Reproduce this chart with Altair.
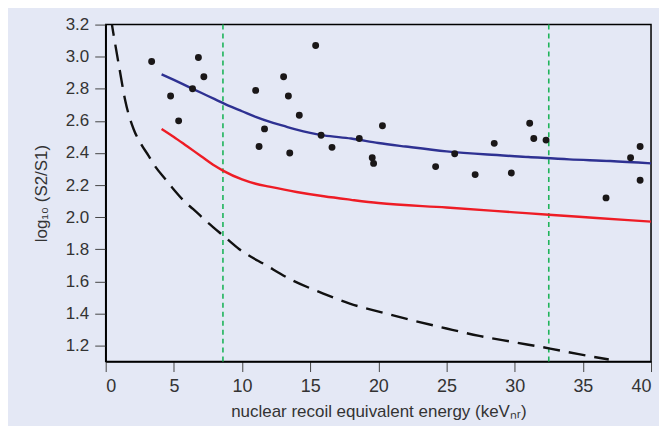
import altair as alt
import pandas as pd

# ---- data ----
pts_x = [3.37, 4.76, 5.35, 6.37, 6.80, 7.20, 11.0, 11.25, 11.65, 13.05, 13.4, 13.5,
         14.2, 15.4, 15.8, 16.6, 18.6, 19.55, 19.65, 20.3, 24.2, 25.6, 27.1, 28.5,
         29.75, 31.1, 31.4, 32.3, 36.7, 38.5, 39.2, 39.2]
pts_y = [2.97, 2.755, 2.60, 2.80, 2.995, 2.875, 2.79, 2.44, 2.55, 2.875, 2.755, 2.40,
         2.635, 3.07, 2.51, 2.435, 2.49, 2.37, 2.335, 2.57, 2.315, 2.395, 2.265, 2.46,
         2.275, 2.585, 2.49, 2.48, 2.12, 2.37, 2.44, 2.23]

blue_x = [4.1, 5, 6, 7, 8, 9, 10, 11, 12, 13, 14, 15, 16, 18, 20, 22, 25, 28, 31, 34, 37, 40]
blue_y = [2.89, 2.855, 2.815, 2.775, 2.735, 2.695, 2.66, 2.625, 2.595, 2.57, 2.545,
          2.525, 2.51, 2.49, 2.462, 2.44, 2.41, 2.39, 2.375, 2.36, 2.35, 2.335]

red_x = [4.1, 5, 6, 7, 8, 8.6, 10, 11, 12, 14, 16, 18, 20, 25, 30, 32.5, 36, 40]
red_y = [2.55, 2.50, 2.44, 2.38, 2.32, 2.29, 2.235, 2.208, 2.19, 2.157, 2.13, 2.108,
         2.088, 2.06, 2.03, 2.015, 1.995, 1.972]

dash_x = [0.40, 0.46, 0.66, 1.0, 1.44, 2.05, 2.6, 3.15, 3.52, 4.37, 4.86, 5.84, 6.4,
          7.47, 8.67, 9.8, 11.77, 13.7, 15.7, 17.9, 20.1, 22.5, 25.0, 27.4, 29.8,
          32.6, 34.7, 36.9]
dash_y = [3.235, 3.2, 3.097, 2.93, 2.724, 2.548, 2.455, 2.382, 2.33, 2.237, 2.186,
          2.093, 2.051, 1.968, 1.881, 1.80, 1.70, 1.606, 1.533, 1.461, 1.41, 1.357,
          1.306, 1.26, 1.223, 1.181, 1.146, 1.113]

cut_x = [8.6, 32.5]

x_ticks = [0, 5, 10, 15, 20, 25, 30, 35, 40]
y_ticks = [1.2, 1.4, 1.6, 1.8, 2.0, 2.2, 2.4, 2.6, 2.8, 3.0, 3.2]

FONT = "Liberation Sans Narrow, Liberation Sans, sans-serif"
BG = "#e4e8f5"

x_scale = alt.Scale(domain=[0, 40], nice=False, zero=False)
y_scale = alt.Scale(domain=[1.1, 3.2], nice=False, zero=False)

x_axis = alt.Axis(values=x_ticks, title="nuclear recoil equivalent energy (keVₙᵣ)",
                  grid=False, format="d", tickSize=10, tickColor="#444444",
                  domainColor="#000000", domainWidth=1.5, labelPadding=6,
                  labelFontSize=18, titlePadding=8)
y_axis = alt.Axis(values=y_ticks, title="log₁₀ (S2/S1)", grid=False, format=".1f",
                  tickSize=11, tickColor="#444444", domainColor="#000000",
                  domainWidth=1.5, labelPadding=6, labelFontSize=17, titlePadding=15)

def X(field):
    return alt.X(field, type="quantitative", scale=x_scale, axis=x_axis)

def Y(field):
    return alt.Y(field, type="quantitative", scale=y_scale, axis=y_axis)

pts_df = pd.DataFrame({"x": pts_x, "y": pts_y})
blue_df = pd.DataFrame({"x": blue_x, "y": blue_y})
red_df = pd.DataFrame({"x": red_x, "y": red_y})
dash_df = pd.DataFrame({"x": dash_x, "y": dash_y})
cut_df = pd.DataFrame({"x": cut_x})

cuts = alt.Chart(cut_df).mark_rule(color="#1fb45a", strokeWidth=1.6,
                                   strokeDash=[5, 4]).encode(x=X("x"))

dashed = alt.Chart(dash_df).mark_line(color="#111111", strokeWidth=2.4,
                                      strokeDash=[17, 9], clip=True,
                                      interpolate="monotone").encode(
    x=X("x"), y=Y("y"))

red = alt.Chart(red_df).mark_line(color="#ee1c25", strokeWidth=2.4,
                                  interpolate="monotone").encode(x=X("x"), y=Y("y"))

blue = alt.Chart(blue_df).mark_line(color="#2e3192", strokeWidth=2.4,
                                    interpolate="monotone").encode(x=X("x"), y=Y("y"))

points = alt.Chart(pts_df).mark_circle(color="#1a1718", opacity=1, size=48).encode(
    x=X("x"), y=Y("y"))

chart = alt.layer(cuts, dashed, red, blue, points).properties(
    width=547, height=338,
    background=BG,
    autosize=alt.AutoSizeParams(type="none"),
    padding={"left": 98, "top": 16, "right": 8, "bottom": 64},
).configure_view(
    stroke="#000000", strokeWidth=1.5, fill=BG
).configure_axis(
    labelFont=FONT, titleFont=FONT, titleFontSize=17,
    labelColor="#333333", titleColor="#333333", titleFontWeight="normal"
)

chart.save("out.html", embed_options={"renderer": "svg", "actions": False})
